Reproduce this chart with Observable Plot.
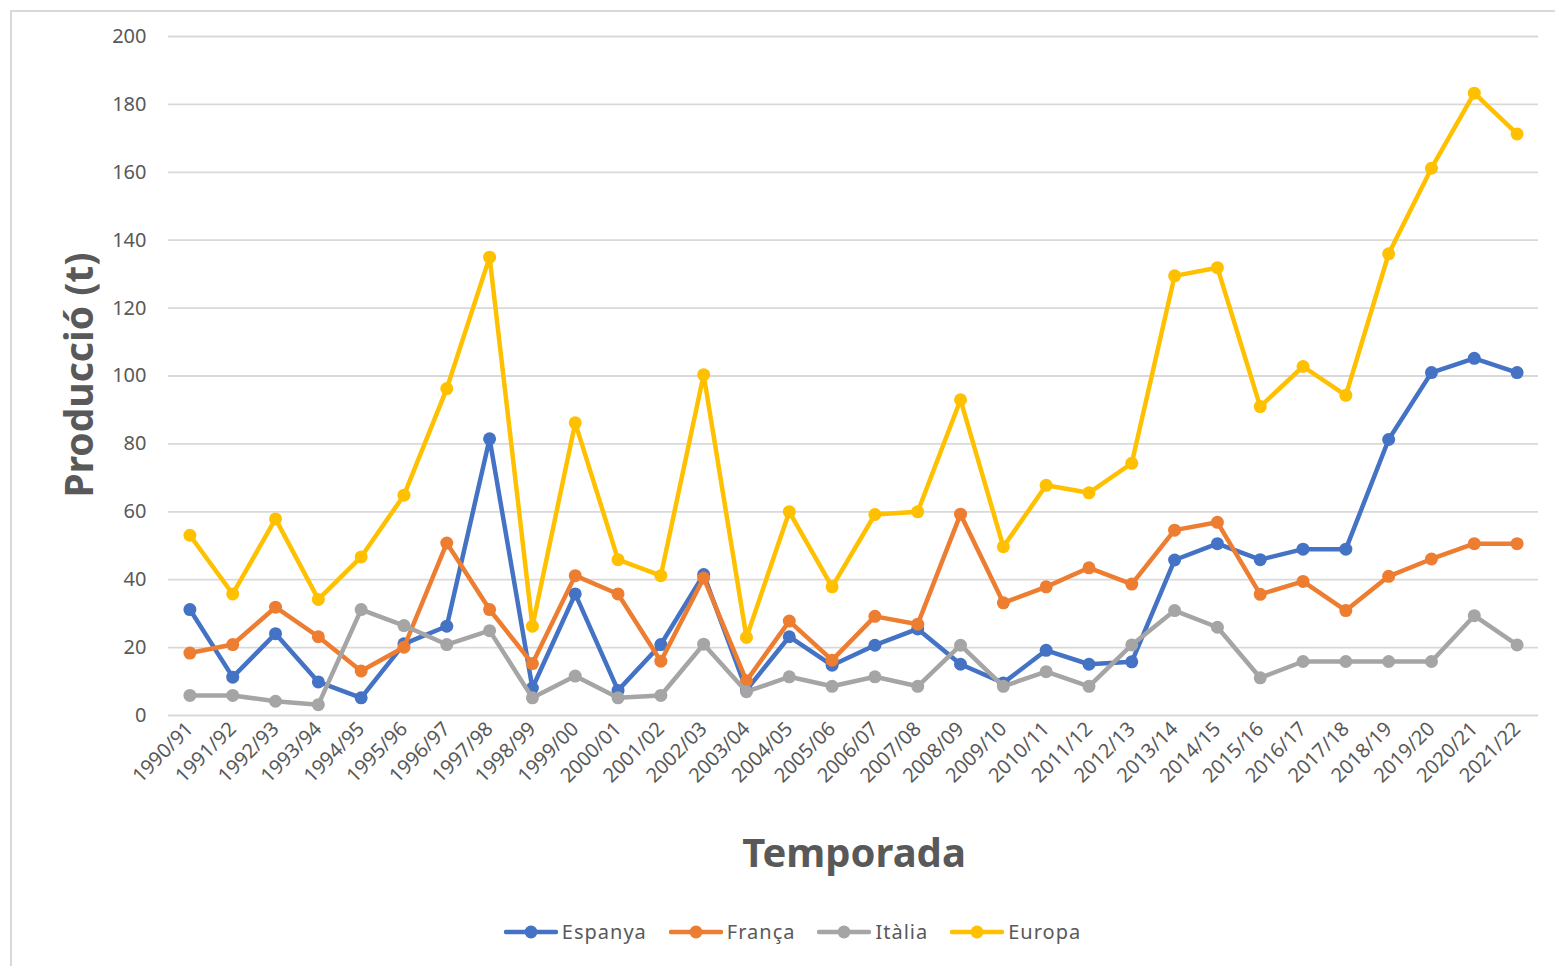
<!DOCTYPE html>
<html>
<head>
<meta charset="utf-8">
<script src="https://cdn.jsdelivr.net/npm/d3@7"></script>
<script src="https://cdn.jsdelivr.net/npm/@observablehq/plot@0.6"></script>
<style>
  html, body { margin:0; padding:0; background:#fff; }
  #wrap { position:relative; width:1555px; height:966px; overflow:hidden; font-family:"Noto Sans", sans-serif; }
  #frame { position:absolute; left:10px; top:10px; width:1600px; height:1000px; border-top:2px solid #d9d9d9; border-left:2px solid #d9d9d9; box-sizing:border-box; }
  #chart { position:absolute; left:0; top:0; }
  #ylab { position:absolute; left:77px; top:375px; transform:translate(-50%,-50%) rotate(-90deg); font-weight:bold; font-size:39px; color:#595959; white-space:nowrap; }
  #xlab { position:absolute; left:854px; top:851px; transform:translate(-50%,-50%); font-weight:bold; font-size:40px; color:#595959; white-space:nowrap; }
  #legend { position:absolute; top:918px; left:0; width:1555px; display:flex; justify-content:center; gap:22px; padding-left:30px; box-sizing:border-box; font-size:20px; color:#595959; letter-spacing:1px; }
  .item { display:flex; align-items:center; }
  .item svg { margin-right:4px; }
</style>
</head>
<body>
<div id="wrap">
  <div id="frame"></div>
  <div id="chart"></div>
  <div id="ylab">Producció (t)</div>
  <div id="xlab">Temporada</div>
  <div id="legend"></div>
</div>
<script>
const seasons = ["1990/91","1991/92","1992/93","1993/94","1994/95","1995/96","1996/97","1997/98","1998/99","1999/00","2000/01","2001/02","2002/03","2003/04","2004/05","2005/06","2006/07","2007/08","2008/09","2009/10","2010/11","2011/12","2012/13","2013/14","2014/15","2015/16","2016/17","2017/18","2018/19","2019/20","2020/21","2021/22"];
const seriesNames = ["Espanya","França","Itàlia","Europa"];
const seriesColors = ["#4472C4","#ED7D31","#A5A5A5","#FFC000"];
const espanya = [31.2,11.3,24.1,9.9,5.2,21.1,26.3,81.5,8.1,35.8,7.4,20.9,41.5,7.5,23.2,14.8,20.7,25.5,15.1,9.6,19.2,15.1,15.8,45.8,50.6,45.9,49.0,49.0,81.3,101.0,105.2,101.0];
const franca  = [18.4,20.9,31.9,23.2,13.1,20.1,50.8,31.2,15.3,41.2,35.8,16.0,40.5,10.2,27.8,16.3,29.2,26.9,59.3,33.2,37.9,43.5,38.7,54.6,56.9,35.7,39.5,30.9,41.0,46.1,50.6,50.6];
const italia  = [5.9,5.9,4.2,3.2,31.2,26.5,20.9,25.0,5.2,11.6,5.2,5.9,21.0,7.0,11.4,8.6,11.4,8.6,20.7,8.6,12.9,8.6,20.8,30.9,26.0,11.1,15.9,15.9,15.9,15.9,29.4,20.8];
const europa  = [53.1,35.8,57.9,34.2,46.7,64.9,96.3,135.0,26.3,86.2,45.9,41.2,100.4,23.0,60.0,37.9,59.2,60.0,93.0,49.7,67.8,65.6,74.3,129.5,131.9,91.0,102.8,94.3,136.0,161.2,183.3,171.3];
const yTicks = [0,20,40,60,80,100,120,140,160,180,200];

const seriesValues = [espanya, franca, italia, europa];
const tables = seriesNames.map((name, i) => seasons.map((s, j) => ({season: s, value: seriesValues[i][j], series: name})));

const chart = Plot.plot({
  width: 1555,
  height: 966,
  marginLeft: 168,
  marginRight: 17,
  marginTop: 36,
  marginBottom: 251,
  style: {fontFamily: "'Noto Sans', sans-serif", fontSize: "20px", color: "#595959", background: "transparent", overflow: "visible"},
  x: {type: "point", domain: seasons, padding: 0.5, round: false, label: null},
  y: {domain: [0, 200], label: null},
  color: {domain: seriesNames, range: seriesColors},
  marks: [
    Plot.gridY(yTicks, {stroke: "#d9d9d9", strokeOpacity: 1, strokeWidth: 1.8}),
    Plot.axisY(yTicks, {tickSize: 0, tickPadding: 22, label: null, fontSize: 20}),
    Plot.axisX({tickSize: 0, tickRotate: -45, tickPadding: 10, label: null, fontSize: 20}),
    ...tables.flatMap(t => [
      Plot.line(t, {x: "season", y: "value", stroke: "series", strokeWidth: 4.5, strokeLinejoin: "round", strokeLinecap: "round"}),
      Plot.dot(t, {x: "season", y: "value", fill: "series", r: 6.5})
    ])
  ]
});
document.getElementById("chart").appendChild(chart);

const legend = document.getElementById("legend");
seriesNames.forEach((name, i) => {
  const item = document.createElement("div");
  item.className = "item";
  item.innerHTML = `<svg width="54" height="16"><line x1="2" y1="8" x2="52" y2="8" stroke="${seriesColors[i]}" stroke-width="4.5" stroke-linecap="round"/><circle cx="27" cy="8" r="6.5" fill="${seriesColors[i]}"/></svg><span>${name}</span>`;
  legend.appendChild(item);
});
</script>
</body>
</html>
